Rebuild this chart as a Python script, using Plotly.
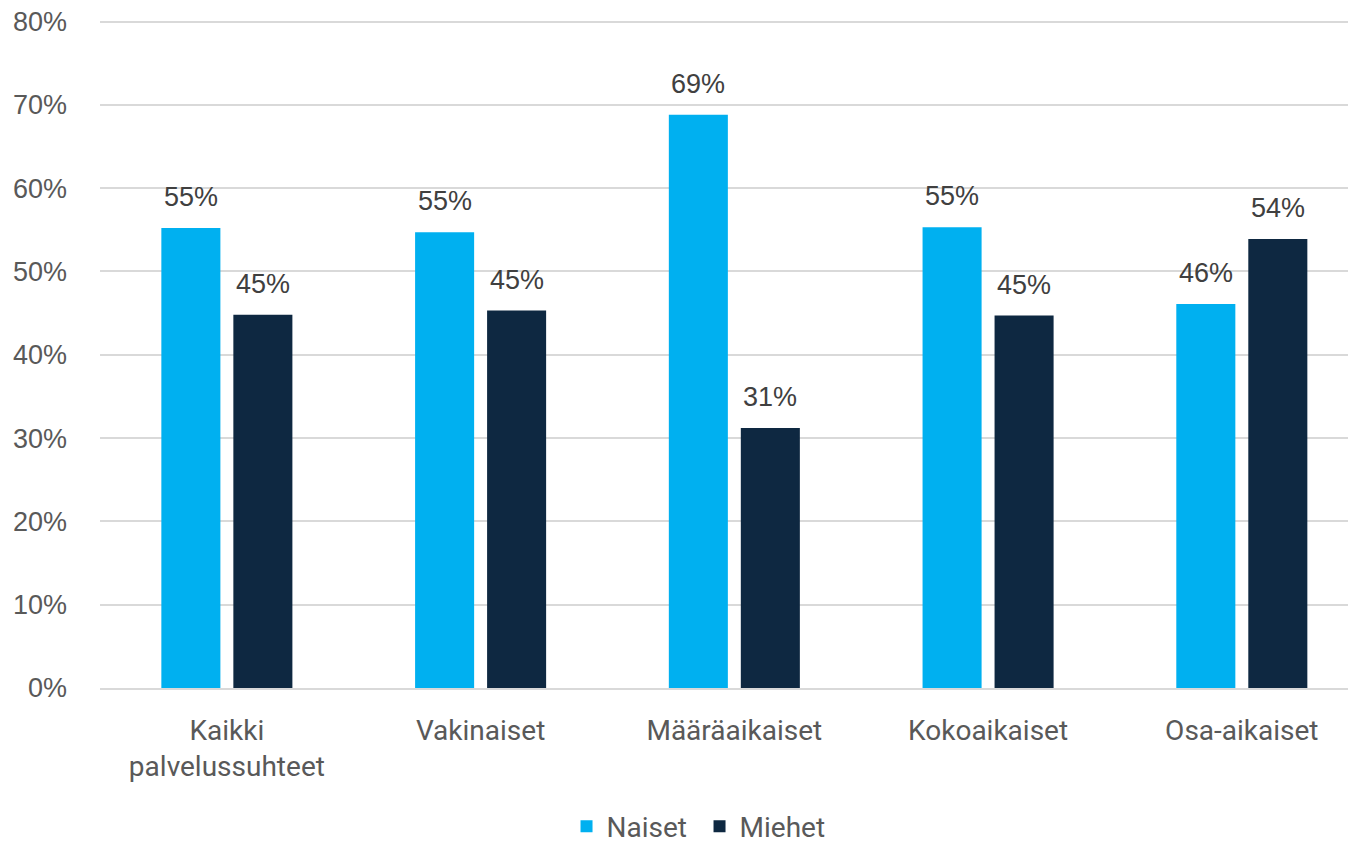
import plotly.graph_objects as go

categories = ["Kaikki<br>palvelussuhteet", "Vakinaiset", "Määräaikaiset", "Kokoaikaiset", "Osa-aikaiset"]
naiset = [0.552, 0.547, 0.688, 0.553, 0.461]
miehet = [0.448, 0.453, 0.312, 0.447, 0.539]
yticks = [0, 0.1, 0.2, 0.3, 0.4, 0.5, 0.6, 0.7, 0.8]

grey = "#595959"
bargap = 0.4325

fig = go.Figure()
fig.add_trace(go.Bar(x=categories, y=naiset, name="Naiset", marker_color="#00B0F0"))
fig.add_trace(go.Bar(x=categories, y=miehet, name="Miehet", marker_color="#0E2841"))
fig.update_traces(marker_line_width=0)

# value labels above the bars, a bit more room than plotly's outside text
slot = (1 - bargap) / 2
for i in range(len(categories)):
    for val, off in ((naiset[i], -slot / 2), (miehet[i], slot / 2)):
        fig.add_annotation(x=i + off, y=val, xref="x", yref="y", text=f"{val:.0%}",
                           showarrow=False, yanchor="bottom", yshift=14,
                           font=dict(family="Liberation Sans", size=27, color="#404040"))

# page body adds an 8px offset, so the figure is a bit smaller than the window
fig.update_layout(
    width=1348, height=836,
    margin=dict(l=92, r=0, t=10.5, b=156),
    plot_bgcolor="white", paper_bgcolor="white",
    barmode="group", bargap=bargap, bargroupgap=0.18,
    showlegend=True,
    legend=dict(orientation="h", xref="container", x=0.513, xanchor="center",
                yref="container", y=0.021, yanchor="middle", entrywidth=88,
                font=dict(family="Roboto", size=28, color=grey)),
    xaxis=dict(range=[-0.5, 4.45], showline=True, linecolor="#D9D9D9", linewidth=2,
               ticks="", ticklabelstandoff=16, automargin=False,
               tickfont=dict(family="Roboto", size=28, color=grey)),
    # a little headroom so the 80% gridline is still drawn
    yaxis=dict(range=[0, 0.803], tickvals=yticks, tickformat=".0%", showgrid=True,
               gridcolor="#D9D9D9", gridwidth=2, zeroline=False,
               ticklabelstandoff=32, automargin=False, ticklabeloverflow="allow",
               tickfont=dict(family="Liberation Sans", size=27, color=grey)),
)

fig.write_html("out.html")
